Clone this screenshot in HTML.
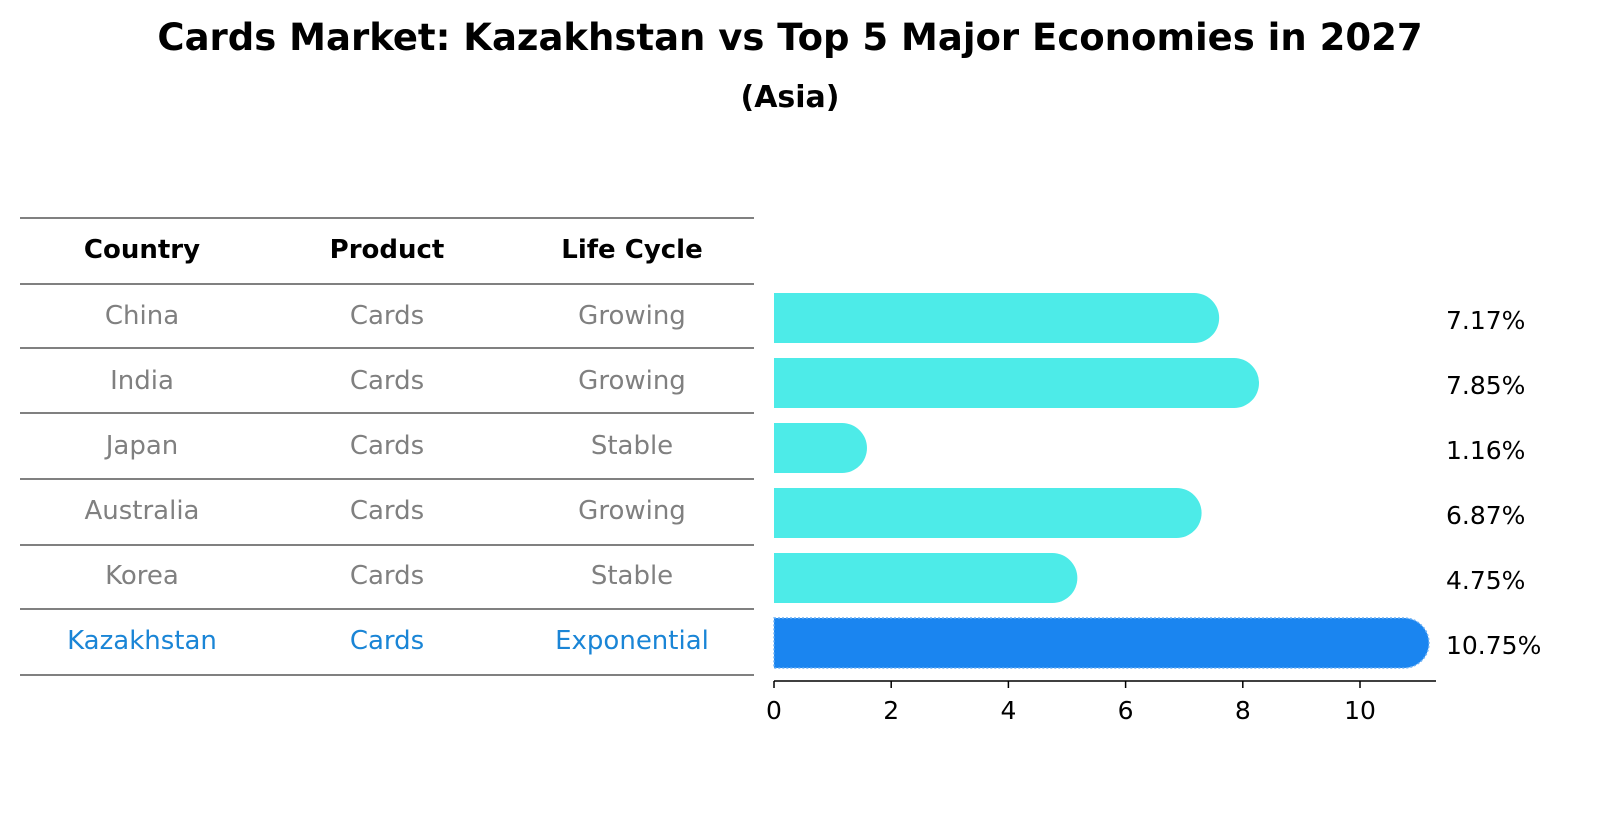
<!DOCTYPE html>
<html><head><meta charset="utf-8"><style>
body{margin:0;background:#fff;font-family:"Liberation Sans","DejaVu Sans",sans-serif}
svg text{font-family:"DejaVu Sans","Liberation Sans",sans-serif}
</style></head><body>
<svg id="c" width="1604" height="823" xmlns="http://www.w3.org/2000/svg">
<text x="790" y="50" text-anchor="middle" font-size="37" font-weight="bold">Cards Market: Kazakhstan vs Top 5 Major Economies in 2027</text>
<text x="790" y="107" text-anchor="middle" font-size="30" font-weight="bold">(Asia)</text>
<g id="table"></g>
<g id="bars"></g>
<g id="axis"></g>
</svg>
<script>
const countries=["China","India","Japan","Australia","Korea","Kazakhstan"];
const products=["Cards","Cards","Cards","Cards","Cards","Cards"];
const lifeCycles=["Growing","Growing","Stable","Growing","Stable","Exponential"];
const values=[7.17,7.85,1.16,6.87,4.75,10.75];
const labels=["7.17%","7.85%","1.16%","6.87%","4.75%","10.75%"];
const ticks=[0,2,4,6,8,10];
const NS="http://www.w3.org/2000/svg";
function mk(tag,attrs,parent,txt){const e=document.createElementNS(NS,tag);for(const k in attrs)e.setAttribute(k,attrs[k]);if(txt!==undefined)e.textContent=txt;parent.appendChild(e);return e;}
const x=v=>774+v*58.6;
const rowY=i=>318+i*64.3;
const tbl=document.getElementById('table'),bars=document.getElementById('bars'),axis=document.getElementById('axis');
const lineYs=[218,284,348,413,479,545,609,675];
lineYs.forEach(y=>{const l=mk('line',{x1:20,x2:754,y1:y,y2:y,stroke:'#000','stroke-width':1.1},tbl);

});
const colX=[142,387,632];
["Country","Product","Life Cycle"].forEach((h,j)=>{const t=mk('text',{x:colX[j],y:258,'text-anchor':'middle','font-size':26,'font-weight':'bold'},tbl,h);

});
countries.forEach((c,i)=>{
 const col=i===countries.length-1?'#1a85d6':'#808080';
 const cy=rowY(i)+(i*0.7);
 [c,products[i],lifeCycles[i]].forEach((s,j)=>{const t=mk('text',{x:colX[j],y:cy+6,'text-anchor':'middle','font-size':26,fill:col},tbl,s);
 
 });
 const h=50,r=25;
 const isK=i===countries.length-1;
 const xe=x(values[i]);
 const p=mk('path',{d:`M774 ${cy-h/2} H${xe} A${r} ${r} 0 0 1 ${xe} ${cy+h/2} H774 Z`,fill:isK?'#1a85f0':'#4debe8'},bars);
 if(isK){p.setAttribute('stroke','#6ab0f5');p.setAttribute('stroke-width','1.5');p.setAttribute('stroke-dasharray','2 2');}
 
 
 const t=mk('text',{x:1446,y:cy+11,'font-size':25},bars,labels[i]);
 
 
});
const al=mk('line',{x1:774,x2:1436,y1:681,y2:681,stroke:'#000','stroke-width':1.5},axis);


ticks.forEach(v=>{const tk=mk('line',{x1:x(v),x2:x(v),y1:681,y2:688,stroke:'#000','stroke-width':1.5},axis);


const t=mk('text',{x:x(v),y:719,'text-anchor':'middle','font-size':25},axis,String(v));

});
</script>
</body></html>
